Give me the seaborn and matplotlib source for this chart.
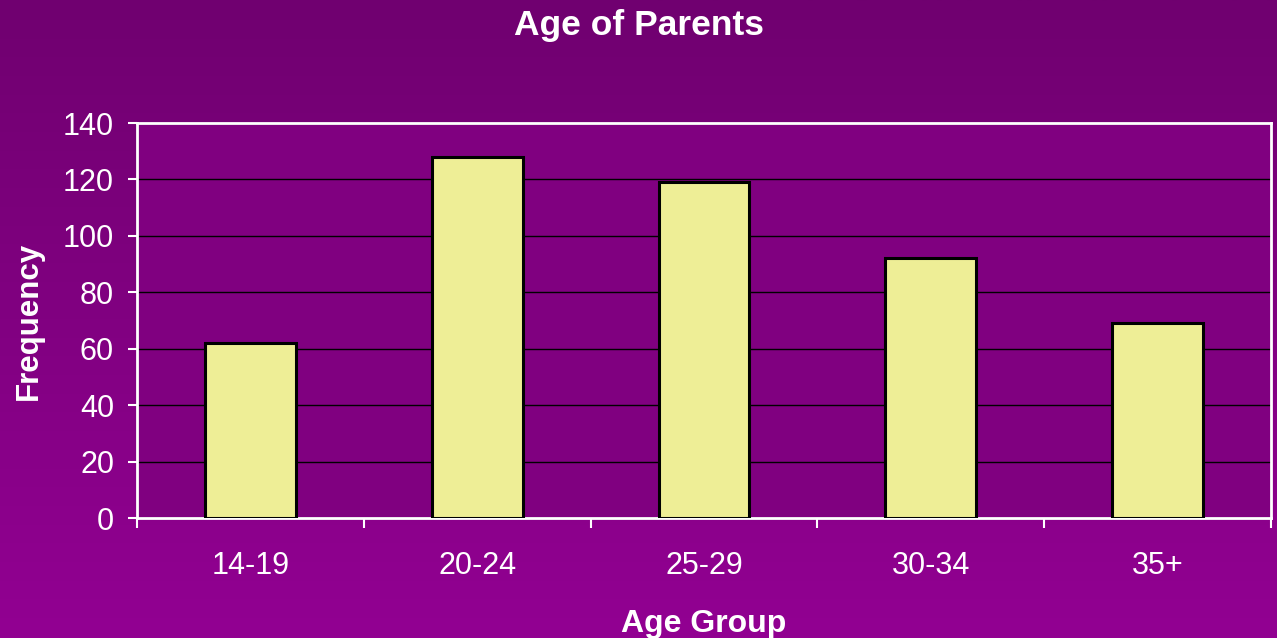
import numpy as np
import pandas as pd
import matplotlib
matplotlib.use('Agg')
import matplotlib.pyplot as plt
import seaborn as sns

age_groups = ['14-19', '20-24', '25-29', '30-34', '35+']
frequency = [62, 128, 119, 92, 69]

df = pd.DataFrame({'Age Group': age_groups, 'Frequency': frequency})

sns.set_style('white')
plt.rcParams['font.family'] = ['Liberation Sans', 'DejaVu Sans']

fig = plt.figure(figsize=(12.77, 6.38), dpi=100)

# purple gradient background
bg = fig.add_axes([0, 0, 1, 1], zorder=-10)
grad = np.linspace(0, 1, 256).reshape(-1, 1)
cmap = matplotlib.colors.LinearSegmentedColormap.from_list('bg', ['#700070', '#920092'])
bg.imshow(grad, aspect='auto', cmap=cmap, extent=[0, 1, 0, 1], origin='upper')
bg.axis('off')

ax = fig.add_axes([137 / 1277, 1 - 518 / 638, (1271 - 137) / 1277, (518 - 123) / 638])
ax.set_facecolor('#800080')

sns.barplot(data=df, x='Age Group', y='Frequency', ax=ax, color='#eeee96',
            edgecolor='black', linewidth=2.2, width=0.4, saturation=1, zorder=3)

ax.set_ylim(0, 140)
ax.set_xlim(-0.5, 4.5)
ax.set_yticks(range(0, 141, 20))
ax.yaxis.grid(True, color='black', linewidth=1)
ax.set_axisbelow(True)

for s in ax.spines.values():
    s.set_visible(True)
    s.set_color('white')
    s.set_linewidth(2)

ax.set_xticks(np.arange(-0.5, 5, 1), minor=False)
ax.set_xticklabels([])
ax.set_xticks(range(5), minor=True)
ax.set_xticklabels(age_groups, minor=True)
ax.tick_params(axis='x', which='major', length=7, color='white', width=1.5, direction='out', bottom=True)
ax.tick_params(axis='x', which='minor', length=0, labelsize=22, labelcolor='white', pad=24)
ax.tick_params(axis='y', length=6.5, color='white', width=1.5, direction='out', left=True,
               labelsize=22, labelcolor='white', pad=10)

ax.set_xlabel('Age Group', fontsize=23, fontweight='bold', color='white', labelpad=20)
ax.set_ylabel('Frequency', fontsize=22.5, fontweight='bold', color='white', labelpad=14)
fig.text(0.5, 1 - 26 / 638, 'Age of Parents', ha='center', va='center',
         fontsize=25.5, fontweight='bold', color='white')

fig.savefig('out.png', dpi=100)
